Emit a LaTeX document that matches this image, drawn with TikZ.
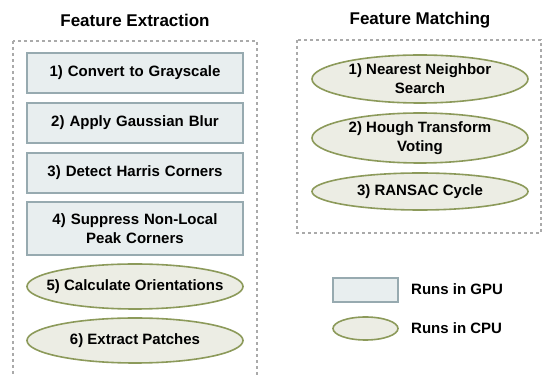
\documentclass[tikz,border=0pt]{standalone}
\usepackage{fontspec}
\setmainfont{Liberation Sans}
\usetikzlibrary{shapes.geometric}
\definecolor{gpufill}{HTML}{E8EEEF}
\definecolor{gpuline}{HTML}{97AAB0}
\definecolor{cpufill}{HTML}{ECEDE4}
\definecolor{cpuline}{HTML}{8C9A5A}
\definecolor{groupline}{HTML}{AAAAAA}
\tikzset{x=1pt,y=1pt}
\tikzstyle{gpubox} = [rectangle, minimum width=216pt, minimum height=40pt, text width=205pt, align=center, inner sep=0pt, fill=gpufill, draw=gpuline, line width=1.6pt]
\tikzstyle{cpubox} = [ellipse, minimum width=216pt, minimum height=45pt, align=center, inner xsep=-22pt, inner ysep=-2pt, fill=cpufill, draw=cpuline, line width=1.6pt]
\tikzstyle{title} = [font=\fontsize{17}{20}\selectfont\bfseries]
\tikzstyle{group} = [draw=groupline, dashed, line width=1.2pt]
\tikzstyle{keytext} = [anchor=west, inner sep=0pt]

\begin{document}
\begin{tikzpicture}[node distance=50pt, font=\fontsize{15}{19}\selectfont\bfseries]
\useasboundingbox (0,0) rectangle (542,375);

\node (extract) [title] at (135,355) {Feature Extraction};
\node (match) [title] at (420,355) {Feature Matching};

\draw [group] (13,334) rectangle (257,-5);
\draw [group] (297,335) rectangle (541,142);

\node (gray) [gpubox] at (135,302) {1) Convert to Grayscale};

\node (blur) [gpubox, below of = gray] {2) Apply Gaussian Blur};

\node (harris) [gpubox, below of = blur] {3) Detect Harris Corners};

\node (suppress) [gpubox, below of = harris, yshift=-5.5pt, minimum height=53pt] {4) Suppress Non-Local\\Peak Corners};

\node (orient) [cpubox, below of = suppress, yshift=-8pt] {5) Calculate Orientations};

\node (patches) [cpubox, below of = orient, yshift=-4pt] {6) Extract Patches};

\node (nearest) [cpubox, minimum height=48pt] at (420,296) {1) Nearest Neighbor\\Search};

\node (hough) [cpubox, below of = nearest, yshift=-9pt, minimum height=50pt] {2) Hough Transform\\Voting};

\node (ransac) [cpubox, below of = hough, yshift=-3.5pt, minimum height=37pt] {3) RANSAC Cycle};

\node (gpukey) [gpubox, minimum width=65pt, minimum height=24pt, text width=50pt] at (365.5,85) {};
\node (cpukey) [cpubox, minimum width=65pt, minimum height=23pt, inner sep=0pt] at (365.5,46.5) {};

\node (gputext) [keytext] at (411,86) {Runs in GPU};
\node (cputext) [keytext] at (411,47) {Runs in CPU};

\end{tikzpicture}
\end{document}
